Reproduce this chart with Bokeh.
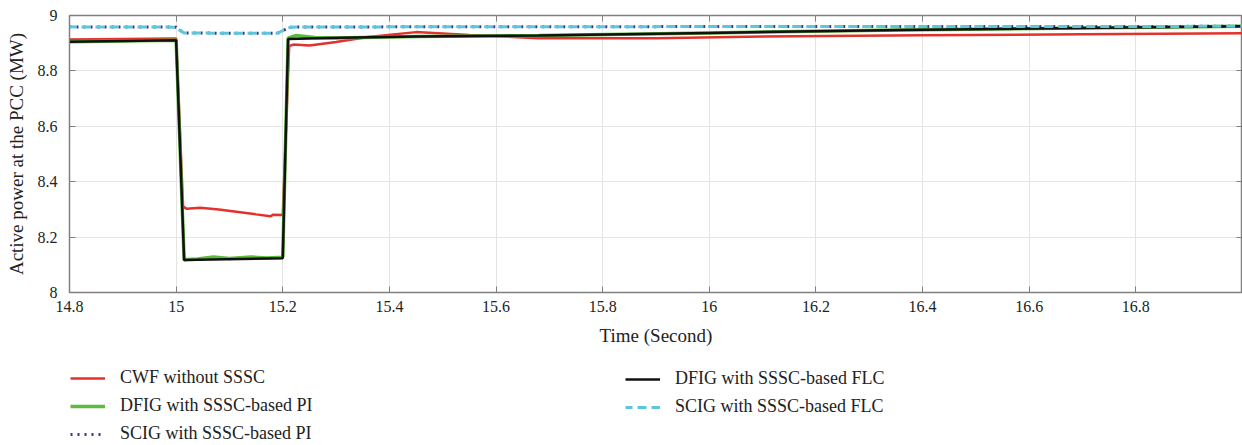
from bokeh.plotting import figure
from bokeh.layouts import column
from bokeh.models import (Range1d, FixedTicker, CustomJSTickFormatter, LinearAxis,
                          Legend, LegendItem)
from bokeh.embed import file_html
from bokeh.resources import INLINE

# Active power at the PCC (MW) versus time (s)
t_cwf = [14.80, 15.00, 15.013, 15.02, 15.045, 15.08, 15.12, 15.15, 15.177, 15.182, 15.200,
         15.212, 15.22, 15.25, 15.30, 15.36, 15.45, 15.55, 15.68, 15.90, 16.10, 16.40, 16.70, 17.00]
p_cwf = [8.913, 8.917, 8.310, 8.302, 8.306, 8.300, 8.290, 8.282, 8.275, 8.281, 8.280,
         8.890, 8.895, 8.892, 8.904, 8.922, 8.940, 8.930, 8.918, 8.918, 8.924, 8.929, 8.932, 8.936]

t_dfig_pi = [14.80, 15.00, 15.015, 15.04, 15.07, 15.10, 15.14, 15.17, 15.20, 15.21, 15.225,
             15.26, 15.30, 15.35, 15.45, 15.68, 16.00, 16.36, 16.70, 17.00]
p_dfig_pi = [8.905, 8.911, 8.118, 8.121, 8.128, 8.123, 8.128, 8.125, 8.127, 8.918, 8.928,
             8.921, 8.919, 8.921, 8.924, 8.928, 8.937, 8.948, 8.955, 8.961]

t_dfig_flc = [14.80, 15.00, 15.015, 15.20, 15.21, 15.25, 15.31, 15.45, 15.68, 16.00, 16.36,
              16.70, 17.00]
p_dfig_flc = [8.905, 8.911, 8.117, 8.124, 8.915, 8.917, 8.920, 8.924, 8.928, 8.937, 8.948,
              8.955, 8.961]

t_scig_pi = [14.80, 15.00, 15.006, 15.015, 15.10, 15.19, 15.205, 15.215, 15.40, 16.00, 16.60, 17.00]
p_scig_pi = [8.959, 8.958, 8.948, 8.937, 8.936, 8.936, 8.950, 8.958, 8.959, 8.960, 8.960, 8.961]

t_scig_flc = [14.80, 15.00, 15.006, 15.015, 15.10, 15.19, 15.205, 15.215, 15.40, 16.00, 16.60, 17.00]
p_scig_flc = [8.959, 8.958, 8.948, 8.937, 8.936, 8.936, 8.950, 8.958, 8.959, 8.960, 8.960, 8.961]

x_ticks = [14.8, 15.0, 15.2, 15.4, 15.6, 15.8, 16.0, 16.2, 16.4, 16.6, 16.8]
y_ticks = [8.0, 8.2, 8.4, 8.6, 8.8, 9.0]

labels = ["CWF without SSSC", "DFIG with SSSC-based PI", "SCIG with SSSC-based PI",
          "DFIG with SSSC-based FLC", "SCIG with SSSC-based FLC"]

series = [(t_cwf, p_cwf), (t_dfig_pi, p_dfig_pi), (t_scig_pi, p_scig_pi),
          (t_dfig_flc, p_dfig_flc), (t_scig_flc, p_scig_flc)]

# line styles per series: colour, width, dash
styles = [
    dict(line_color="#e3312e", line_width=2.5),
    dict(line_color="#5cba3c", line_width=3.5),
    dict(line_color="#343a8f", line_width=3, line_dash="2 5"),
    dict(line_color="#111111", line_width=2.5),
    dict(line_color="#5cc6da", line_width=3, line_dash="9 5", line_dash_offset=2),
]

FONT = "Liberation Serif"
TEXT = "#222222"

p = figure(width=1242, height=355, output_backend="svg", toolbar_location=None,
           x_range=Range1d(14.8, 17.0), y_range=Range1d(8.0, 9.0),
           min_border_left=69, min_border_right=0, min_border_top=15, min_border_bottom=63,
           background_fill_color="white", border_fill_color="white")

p.outline_line_color = "#808080"
p.outline_line_width = 1.5

fmt = CustomJSTickFormatter(code="return String(Number(tick.toFixed(1)));")

for ax, ticks in ((p.xaxis[0], x_ticks), (p.yaxis[0], y_ticks)):
    ax.ticker = FixedTicker(ticks=ticks)
    ax.formatter = fmt
    ax.major_tick_in = 6
    ax.major_tick_out = 0
    ax.minor_tick_line_color = None
    ax.axis_line_color = "#808080"
    ax.major_tick_line_color = "#808080"
    ax.major_label_text_font = FONT
    ax.major_label_text_font_size = "16px"
    ax.major_label_text_color = TEXT
    ax.axis_label_text_font = FONT
    ax.axis_label_text_font_size = "19px"
    ax.axis_label_text_font_style = "normal"
    ax.axis_label_text_color = TEXT

p.xaxis[0].axis_label = "Time (Second)"
p.xaxis[0].major_label_standoff = 8
p.xaxis[0].axis_label_standoff = 10
p.yaxis[0].axis_label = "Active power at the PCC (MW)"
p.yaxis[0].major_label_standoff = 12
p.yaxis[0].axis_label_standoff = 8

# tick marks on the top and right edges of the box (no labels)
blank = CustomJSTickFormatter(code="return '';")
for side, ticks in (("above", x_ticks), ("right", y_ticks)):
    extra = LinearAxis(ticker=FixedTicker(ticks=ticks), formatter=blank,
                       major_tick_in=6, major_tick_out=0, minor_tick_line_color=None,
                       axis_line_color=None, major_tick_line_color="#808080",
                       major_label_text_color=None, major_label_text_font_size="8px",
                       major_label_standoff=0)
    p.add_layout(extra, side)

p.xgrid.ticker = FixedTicker(ticks=x_ticks)
p.ygrid.ticker = FixedTicker(ticks=y_ticks)
p.grid.grid_line_color = "#e4e4e4"
p.grid.grid_line_width = 1

for (t, v), s in zip(series, styles):
    p.line(t, v, **s)

# legend strip underneath the chart; its renderers carry the same series but
# sit outside the strip's ranges, so only the legend samples are visible
lg = figure(width=1242, height=90, output_backend="svg", toolbar_location=None,
            x_axis_type=None, y_axis_type=None, x_range=Range1d(0, 1), y_range=Range1d(0, 1),
            min_border=0, outline_line_color=None,
            background_fill_color="white", border_fill_color="white")
lg.grid.visible = False
samples = [lg.line(t, v, **s) for (t, v), s in zip(series, styles)]

legend_style = dict(orientation="vertical", border_line_color=None,
                    background_fill_alpha=0, padding=0, margin=0, spacing=7,
                    label_height=20, glyph_height=20, glyph_width=35, label_standoff=15,
                    label_text_font=FONT, label_text_font_size="18px",
                    label_text_color=TEXT)
leg1 = Legend(items=[LegendItem(label=labels[i], renderers=[samples[i]]) for i in (0, 1, 2)],
              location=(1, 1), **legend_style)
leg2 = Legend(items=[LegendItem(label=labels[i], renderers=[samples[i]]) for i in (3, 4)],
              location=(556, 28), **legend_style)
lg.add_layout(leg1)
lg.add_layout(leg2)

page = column(p, lg, spacing=0)
open("out.html", "w").write(file_html(page, INLINE))
